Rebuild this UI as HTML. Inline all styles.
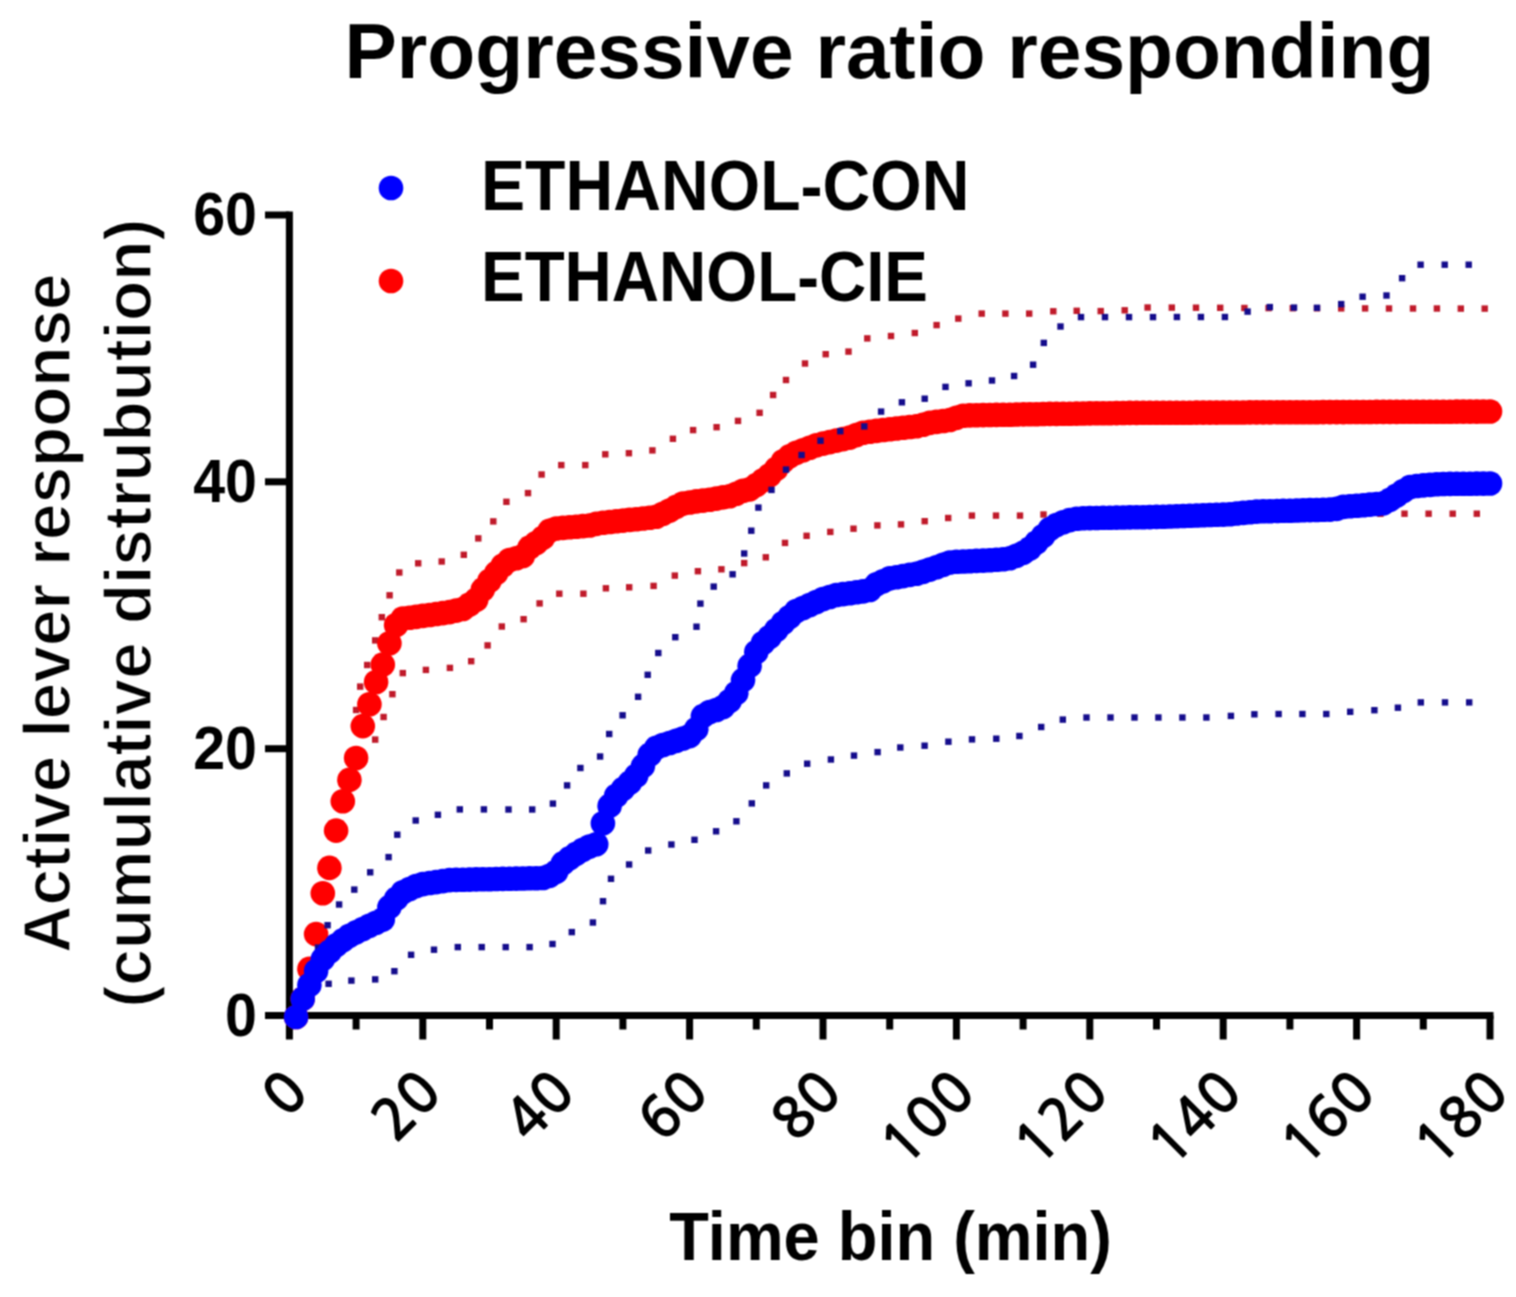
<!DOCTYPE html>
<html><head><meta charset="utf-8"><title>Progressive ratio responding</title>
<style>html,body{margin:0;padding:0;background:#fff;} svg{display:block;}</style>
</head><body>
<svg width="1516" height="1297" viewBox="0 0 1516 1297">
<defs><filter id="soft" filterUnits="userSpaceOnUse" x="0" y="0" width="1516" height="1297" color-interpolation-filters="sRGB"><feConvolveMatrix order="3" kernelMatrix="1 2 1 2 4 2 1 2 1" divisor="16" edgeMode="duplicate"/></filter></defs>
<rect width="1516" height="1297" fill="#fff"/>
<g filter="url(#soft)">
<rect width="1516" height="1297" fill="#fff"/>
<g stroke="#000" stroke-width="7" stroke-linecap="butt"><line x1="289.4" y1="211.5" x2="289.4" y2="1039.5" /><line x1="265" y1="1015.5" x2="1493.5" y2="1015.5" /><line x1="265" y1="748.7" x2="289.4" y2="748.7" /><line x1="265" y1="481.8" x2="289.4" y2="481.8" /><line x1="265" y1="215.0" x2="289.4" y2="215.0" /><line x1="422.8" y1="1015.5" x2="422.8" y2="1039.5" /><line x1="556.2" y1="1015.5" x2="556.2" y2="1039.5" /><line x1="689.6" y1="1015.5" x2="689.6" y2="1039.5" /><line x1="823.0" y1="1015.5" x2="823.0" y2="1039.5" /><line x1="956.4" y1="1015.5" x2="956.4" y2="1039.5" /><line x1="1089.8" y1="1015.5" x2="1089.8" y2="1039.5" /><line x1="1223.2" y1="1015.5" x2="1223.2" y2="1039.5" /><line x1="1356.6" y1="1015.5" x2="1356.6" y2="1039.5" /><line x1="1490.0" y1="1015.5" x2="1490.0" y2="1039.5" /><line x1="356.1" y1="1015.5" x2="356.1" y2="1029.5" /><line x1="489.5" y1="1015.5" x2="489.5" y2="1029.5" /><line x1="622.9" y1="1015.5" x2="622.9" y2="1029.5" /><line x1="756.3" y1="1015.5" x2="756.3" y2="1029.5" /><line x1="889.7" y1="1015.5" x2="889.7" y2="1029.5" /><line x1="1023.1" y1="1015.5" x2="1023.1" y2="1029.5" /><line x1="1156.5" y1="1015.5" x2="1156.5" y2="1029.5" /><line x1="1289.9" y1="1015.5" x2="1289.9" y2="1029.5" /><line x1="1423.3" y1="1015.5" x2="1423.3" y2="1029.5" /></g>
<g fill="#c01a2a"><rect x="352.9" y="706.8" width="6.4" height="6.4"/><rect x="357.0" y="683.4" width="6.4" height="6.4"/><rect x="364.0" y="661.8" width="6.4" height="6.4"/><rect x="372.0" y="637.2" width="6.4" height="6.4"/><rect x="378.6" y="614.0" width="6.4" height="6.4"/><rect x="386.4" y="592.1" width="6.4" height="6.4"/><rect x="396.1" y="569.3" width="6.4" height="6.4"/><rect x="415.0" y="560.1" width="6.4" height="6.4"/><rect x="438.5" y="558.3" width="6.4" height="6.4"/><rect x="460.6" y="551.6" width="6.4" height="6.4"/><rect x="475.1" y="535.2" width="6.4" height="6.4"/><rect x="490.1" y="518.2" width="6.4" height="6.4"/><rect x="503.2" y="498.6" width="6.4" height="6.4"/><rect x="524.8" y="489.9" width="6.4" height="6.4"/><rect x="538.4" y="471.3" width="6.4" height="6.4"/><rect x="558.1" y="461.9" width="6.4" height="6.4"/><rect x="582.1" y="461.9" width="6.4" height="6.4"/><rect x="602.1" y="451.1" width="6.4" height="6.4"/><rect x="625.7" y="450.0" width="6.4" height="6.4"/><rect x="649.2" y="447.2" width="6.4" height="6.4"/><rect x="669.7" y="435.6" width="6.4" height="6.4"/><rect x="689.9" y="426.9" width="6.4" height="6.4"/><rect x="713.4" y="424.0" width="6.4" height="6.4"/><rect x="734.8" y="417.7" width="6.4" height="6.4"/><rect x="756.4" y="409.6" width="6.4" height="6.4"/><rect x="769.9" y="391.8" width="6.4" height="6.4"/><rect x="782.8" y="376.8" width="6.4" height="6.4"/><rect x="801.8" y="360.3" width="6.4" height="6.4"/><rect x="822.5" y="351.0" width="6.4" height="6.4"/><rect x="845.3" y="348.4" width="6.4" height="6.4"/><rect x="864.1" y="335.2" width="6.4" height="6.4"/><rect x="887.8" y="332.8" width="6.4" height="6.4"/><rect x="911.6" y="329.8" width="6.4" height="6.4"/><rect x="933.4" y="321.9" width="6.4" height="6.4"/><rect x="955.1" y="315.4" width="6.4" height="6.4"/><rect x="978.5" y="310.4" width="6.4" height="6.4"/><rect x="1002.2" y="310.4" width="6.4" height="6.4"/><rect x="1026.0" y="310.4" width="6.4" height="6.4"/><rect x="1050.1" y="308.1" width="6.4" height="6.4"/><rect x="1073.5" y="307.6" width="6.4" height="6.4"/><rect x="1097.5" y="307.9" width="6.4" height="6.4"/><rect x="1121.5" y="307.1" width="6.4" height="6.4"/><rect x="1144.4" y="304.3" width="6.4" height="6.4"/><rect x="1168.6" y="304.4" width="6.4" height="6.4"/><rect x="1192.8" y="304.5" width="6.4" height="6.4"/><rect x="1217.0" y="304.6" width="6.4" height="6.4"/><rect x="1241.2" y="304.8" width="6.4" height="6.4"/><rect x="1265.4" y="304.9" width="6.4" height="6.4"/><rect x="1289.6" y="305.0" width="6.4" height="6.4"/><rect x="1313.8" y="305.1" width="6.4" height="6.4"/><rect x="1338.0" y="305.2" width="6.4" height="6.4"/><rect x="1361.9" y="305.2" width="6.4" height="6.4"/><rect x="1385.8" y="305.3" width="6.4" height="6.4"/><rect x="1409.8" y="305.3" width="6.4" height="6.4"/><rect x="1433.7" y="305.3" width="6.4" height="6.4"/><rect x="1457.6" y="305.4" width="6.4" height="6.4"/><rect x="1481.5" y="305.4" width="6.4" height="6.4"/></g><g fill="#c01a2a"><rect x="372.0" y="736.4" width="6.4" height="6.4"/><rect x="380.4" y="713.8" width="6.4" height="6.4"/><rect x="389.2" y="691.0" width="6.4" height="6.4"/><rect x="399.6" y="669.9" width="6.4" height="6.4"/><rect x="422.7" y="666.7" width="6.4" height="6.4"/><rect x="446.7" y="664.7" width="6.4" height="6.4"/><rect x="468.0" y="658.0" width="6.4" height="6.4"/><rect x="484.4" y="642.2" width="6.4" height="6.4"/><rect x="498.6" y="623.3" width="6.4" height="6.4"/><rect x="520.4" y="616.0" width="6.4" height="6.4"/><rect x="536.4" y="600.2" width="6.4" height="6.4"/><rect x="556.1" y="590.5" width="6.4" height="6.4"/><rect x="580.2" y="590.5" width="6.4" height="6.4"/><rect x="602.7" y="585.1" width="6.4" height="6.4"/><rect x="626.0" y="584.1" width="6.4" height="6.4"/><rect x="650.4" y="582.7" width="6.4" height="6.4"/><rect x="671.6" y="572.4" width="6.4" height="6.4"/><rect x="694.7" y="568.0" width="6.4" height="6.4"/><rect x="718.2" y="566.1" width="6.4" height="6.4"/><rect x="741.0" y="559.9" width="6.4" height="6.4"/><rect x="762.6" y="554.1" width="6.4" height="6.4"/><rect x="781.8" y="539.7" width="6.4" height="6.4"/><rect x="803.4" y="532.6" width="6.4" height="6.4"/><rect x="827.1" y="528.7" width="6.4" height="6.4"/><rect x="850.3" y="525.5" width="6.4" height="6.4"/><rect x="874.2" y="522.2" width="6.4" height="6.4"/><rect x="897.8" y="521.2" width="6.4" height="6.4"/><rect x="921.5" y="518.0" width="6.4" height="6.4"/><rect x="945.0" y="514.8" width="6.4" height="6.4"/><rect x="968.7" y="512.4" width="6.4" height="6.4"/><rect x="992.8" y="512.4" width="6.4" height="6.4"/><rect x="1016.8" y="512.4" width="6.4" height="6.4"/><rect x="1040.3" y="511.3" width="6.4" height="6.4"/><rect x="1064.4" y="511.2" width="6.4" height="6.4"/><rect x="1088.4" y="511.2" width="6.4" height="6.4"/><rect x="1112.5" y="511.1" width="6.4" height="6.4"/><rect x="1136.6" y="511.1" width="6.4" height="6.4"/><rect x="1160.6" y="511.0" width="6.4" height="6.4"/><rect x="1184.7" y="511.0" width="6.4" height="6.4"/><rect x="1208.8" y="510.9" width="6.4" height="6.4"/><rect x="1232.8" y="510.9" width="6.4" height="6.4"/><rect x="1256.9" y="510.8" width="6.4" height="6.4"/><rect x="1281.0" y="510.8" width="6.4" height="6.4"/><rect x="1305.0" y="510.7" width="6.4" height="6.4"/><rect x="1329.1" y="510.7" width="6.4" height="6.4"/><rect x="1353.2" y="510.6" width="6.4" height="6.4"/><rect x="1377.2" y="510.6" width="6.4" height="6.4"/><rect x="1401.3" y="510.5" width="6.4" height="6.4"/><rect x="1425.4" y="510.5" width="6.4" height="6.4"/><rect x="1449.5" y="510.5" width="6.4" height="6.4"/><rect x="1473.6" y="510.5" width="6.4" height="6.4"/></g><g fill="#ff0000"><circle cx="296.1" cy="1017.0" r="12.3"/><circle cx="302.7" cy="998.8" r="12.3"/><circle cx="309.4" cy="968.9" r="12.3"/><circle cx="316.1" cy="934.1" r="12.3"/><circle cx="322.8" cy="893.3" r="12.3"/><circle cx="329.4" cy="867.9" r="12.3"/><circle cx="336.1" cy="830.6" r="12.3"/><circle cx="342.8" cy="801.2" r="12.3"/><circle cx="349.4" cy="779.9" r="12.3"/><circle cx="356.1" cy="758.0" r="12.3"/><circle cx="362.8" cy="726.1" r="12.3"/><circle cx="369.4" cy="704.2" r="12.3"/><circle cx="376.1" cy="682.0" r="12.3"/><circle cx="382.8" cy="664.6" r="12.3"/><circle cx="389.4" cy="643.2" r="12.3"/><circle cx="396.1" cy="625.0" r="12.3"/><circle cx="402.8" cy="618.5" r="12.3"/><circle cx="409.5" cy="617.8" r="12.3"/><circle cx="416.1" cy="616.9" r="12.3"/><circle cx="422.8" cy="615.9" r="12.3"/><circle cx="429.5" cy="615.0" r="12.3"/><circle cx="436.1" cy="614.0" r="12.3"/><circle cx="442.8" cy="613.1" r="12.3"/><circle cx="449.5" cy="612.1" r="12.3"/><circle cx="456.1" cy="610.6" r="12.3"/><circle cx="462.8" cy="609.0" r="12.3"/><circle cx="469.5" cy="604.5" r="12.3"/><circle cx="476.2" cy="599.8" r="12.3"/><circle cx="482.8" cy="589.6" r="12.3"/><circle cx="489.5" cy="580.8" r="12.3"/><circle cx="496.2" cy="573.1" r="12.3"/><circle cx="502.8" cy="565.5" r="12.3"/><circle cx="509.5" cy="560.0" r="12.3"/><circle cx="516.2" cy="558.2" r="12.3"/><circle cx="522.8" cy="556.0" r="12.3"/><circle cx="529.5" cy="547.6" r="12.3"/><circle cx="536.2" cy="543.0" r="12.3"/><circle cx="542.9" cy="537.8" r="12.3"/><circle cx="549.5" cy="530.9" r="12.3"/><circle cx="556.2" cy="528.5" r="12.3"/><circle cx="562.9" cy="527.9" r="12.3"/><circle cx="569.5" cy="527.3" r="12.3"/><circle cx="576.2" cy="526.7" r="12.3"/><circle cx="582.9" cy="526.1" r="12.3"/><circle cx="589.5" cy="525.5" r="12.3"/><circle cx="596.2" cy="523.9" r="12.3"/><circle cx="602.9" cy="522.7" r="12.3"/><circle cx="609.6" cy="522.0" r="12.3"/><circle cx="616.2" cy="521.3" r="12.3"/><circle cx="622.9" cy="520.6" r="12.3"/><circle cx="629.6" cy="519.9" r="12.3"/><circle cx="636.2" cy="519.2" r="12.3"/><circle cx="642.9" cy="518.5" r="12.3"/><circle cx="649.6" cy="517.8" r="12.3"/><circle cx="656.2" cy="516.8" r="12.3"/><circle cx="662.9" cy="513.7" r="12.3"/><circle cx="669.6" cy="510.5" r="12.3"/><circle cx="676.3" cy="506.9" r="12.3"/><circle cx="682.9" cy="503.6" r="12.3"/><circle cx="689.6" cy="502.5" r="12.3"/><circle cx="696.3" cy="501.4" r="12.3"/><circle cx="702.9" cy="500.6" r="12.3"/><circle cx="709.6" cy="499.7" r="12.3"/><circle cx="716.3" cy="498.6" r="12.3"/><circle cx="723.0" cy="497.4" r="12.3"/><circle cx="729.6" cy="496.3" r="12.3"/><circle cx="736.3" cy="493.7" r="12.3"/><circle cx="743.0" cy="490.8" r="12.3"/><circle cx="749.6" cy="489.4" r="12.3"/><circle cx="756.3" cy="485.1" r="12.3"/><circle cx="763.0" cy="480.3" r="12.3"/><circle cx="769.6" cy="475.3" r="12.3"/><circle cx="776.3" cy="468.8" r="12.3"/><circle cx="783.0" cy="461.3" r="12.3"/><circle cx="789.6" cy="456.4" r="12.3"/><circle cx="796.3" cy="452.8" r="12.3"/><circle cx="803.0" cy="450.3" r="12.3"/><circle cx="809.7" cy="447.8" r="12.3"/><circle cx="816.3" cy="445.3" r="12.3"/><circle cx="823.0" cy="443.6" r="12.3"/><circle cx="829.7" cy="442.1" r="12.3"/><circle cx="836.3" cy="440.6" r="12.3"/><circle cx="843.0" cy="439.1" r="12.3"/><circle cx="849.7" cy="437.6" r="12.3"/><circle cx="856.4" cy="435.1" r="12.3"/><circle cx="863.0" cy="432.7" r="12.3"/><circle cx="869.7" cy="431.8" r="12.3"/><circle cx="876.4" cy="430.9" r="12.3"/><circle cx="883.0" cy="430.0" r="12.3"/><circle cx="889.7" cy="429.2" r="12.3"/><circle cx="896.4" cy="428.5" r="12.3"/><circle cx="903.0" cy="427.7" r="12.3"/><circle cx="909.7" cy="427.0" r="12.3"/><circle cx="916.4" cy="426.3" r="12.3"/><circle cx="923.0" cy="424.7" r="12.3"/><circle cx="929.7" cy="422.9" r="12.3"/><circle cx="936.4" cy="421.9" r="12.3"/><circle cx="943.1" cy="421.0" r="12.3"/><circle cx="949.7" cy="420.0" r="12.3"/><circle cx="956.4" cy="417.9" r="12.3"/><circle cx="963.1" cy="415.8" r="12.3"/><circle cx="969.7" cy="415.4" r="12.3"/><circle cx="976.4" cy="415.3" r="12.3"/><circle cx="983.1" cy="415.1" r="12.3"/><circle cx="989.8" cy="415.0" r="12.3"/><circle cx="996.4" cy="414.9" r="12.3"/><circle cx="1003.1" cy="414.8" r="12.3"/><circle cx="1009.8" cy="414.7" r="12.3"/><circle cx="1016.4" cy="414.5" r="12.3"/><circle cx="1023.1" cy="414.4" r="12.3"/><circle cx="1029.8" cy="414.3" r="12.3"/><circle cx="1036.4" cy="414.2" r="12.3"/><circle cx="1043.1" cy="414.0" r="12.3"/><circle cx="1049.8" cy="413.9" r="12.3"/><circle cx="1056.4" cy="413.9" r="12.3"/><circle cx="1063.1" cy="413.8" r="12.3"/><circle cx="1069.8" cy="413.7" r="12.3"/><circle cx="1076.5" cy="413.6" r="12.3"/><circle cx="1083.1" cy="413.5" r="12.3"/><circle cx="1089.8" cy="413.4" r="12.3"/><circle cx="1096.5" cy="413.3" r="12.3"/><circle cx="1103.1" cy="413.2" r="12.3"/><circle cx="1109.8" cy="413.2" r="12.3"/><circle cx="1116.5" cy="413.1" r="12.3"/><circle cx="1123.2" cy="413.0" r="12.3"/><circle cx="1129.8" cy="412.9" r="12.3"/><circle cx="1136.5" cy="412.9" r="12.3"/><circle cx="1143.2" cy="412.8" r="12.3"/><circle cx="1149.8" cy="412.8" r="12.3"/><circle cx="1156.5" cy="412.8" r="12.3"/><circle cx="1163.2" cy="412.8" r="12.3"/><circle cx="1169.8" cy="412.7" r="12.3"/><circle cx="1176.5" cy="412.7" r="12.3"/><circle cx="1183.2" cy="412.7" r="12.3"/><circle cx="1189.8" cy="412.7" r="12.3"/><circle cx="1196.5" cy="412.6" r="12.3"/><circle cx="1203.2" cy="412.6" r="12.3"/><circle cx="1209.9" cy="412.6" r="12.3"/><circle cx="1216.5" cy="412.6" r="12.3"/><circle cx="1223.2" cy="412.5" r="12.3"/><circle cx="1229.9" cy="412.5" r="12.3"/><circle cx="1236.5" cy="412.5" r="12.3"/><circle cx="1243.2" cy="412.5" r="12.3"/><circle cx="1249.9" cy="412.4" r="12.3"/><circle cx="1256.5" cy="412.4" r="12.3"/><circle cx="1263.2" cy="412.4" r="12.3"/><circle cx="1269.9" cy="412.4" r="12.3"/><circle cx="1276.6" cy="412.3" r="12.3"/><circle cx="1283.2" cy="412.3" r="12.3"/><circle cx="1289.9" cy="412.3" r="12.3"/><circle cx="1296.6" cy="412.3" r="12.3"/><circle cx="1303.2" cy="412.2" r="12.3"/><circle cx="1309.9" cy="412.2" r="12.3"/><circle cx="1316.6" cy="412.2" r="12.3"/><circle cx="1323.2" cy="412.1" r="12.3"/><circle cx="1329.9" cy="412.1" r="12.3"/><circle cx="1336.6" cy="412.1" r="12.3"/><circle cx="1343.3" cy="412.1" r="12.3"/><circle cx="1349.9" cy="412.0" r="12.3"/><circle cx="1356.6" cy="412.0" r="12.3"/><circle cx="1363.3" cy="412.0" r="12.3"/><circle cx="1369.9" cy="412.0" r="12.3"/><circle cx="1376.6" cy="411.9" r="12.3"/><circle cx="1383.3" cy="411.9" r="12.3"/><circle cx="1389.9" cy="411.9" r="12.3"/><circle cx="1396.6" cy="411.9" r="12.3"/><circle cx="1403.3" cy="411.8" r="12.3"/><circle cx="1410.0" cy="411.8" r="12.3"/><circle cx="1416.6" cy="411.8" r="12.3"/><circle cx="1423.3" cy="411.8" r="12.3"/><circle cx="1430.0" cy="411.7" r="12.3"/><circle cx="1436.6" cy="411.7" r="12.3"/><circle cx="1443.3" cy="411.7" r="12.3"/><circle cx="1450.0" cy="411.7" r="12.3"/><circle cx="1456.7" cy="411.6" r="12.3"/><circle cx="1463.3" cy="411.6" r="12.3"/><circle cx="1470.0" cy="411.6" r="12.3"/><circle cx="1476.7" cy="411.6" r="12.3"/><circle cx="1483.3" cy="411.5" r="12.3"/><circle cx="1490.0" cy="411.5" r="12.3"/></g><g fill="#140c8c"><rect x="292.9" y="1008.8" width="6.4" height="6.4"/><rect x="300.3" y="986.8" width="6.4" height="6.4"/><rect x="307.8" y="964.8" width="6.4" height="6.4"/><rect x="314.8" y="944.4" width="6.4" height="6.4"/><rect x="324.4" y="922.0" width="6.4" height="6.4"/><rect x="335.9" y="901.3" width="6.4" height="6.4"/><rect x="351.1" y="886.4" width="6.4" height="6.4"/><rect x="367.0" y="869.1" width="6.4" height="6.4"/><rect x="385.4" y="853.9" width="6.4" height="6.4"/><rect x="394.1" y="831.5" width="6.4" height="6.4"/><rect x="412.5" y="817.3" width="6.4" height="6.4"/><rect x="434.7" y="811.6" width="6.4" height="6.4"/><rect x="456.6" y="806.2" width="6.4" height="6.4"/><rect x="480.7" y="806.2" width="6.4" height="6.4"/><rect x="505.3" y="806.3" width="6.4" height="6.4"/><rect x="529.0" y="806.3" width="6.4" height="6.4"/><rect x="549.7" y="800.4" width="6.4" height="6.4"/><rect x="563.9" y="782.2" width="6.4" height="6.4"/><rect x="577.2" y="764.8" width="6.4" height="6.4"/><rect x="596.9" y="753.3" width="6.4" height="6.4"/><rect x="606.0" y="730.8" width="6.4" height="6.4"/><rect x="619.4" y="712.1" width="6.4" height="6.4"/><rect x="634.9" y="693.6" width="6.4" height="6.4"/><rect x="644.5" y="671.6" width="6.4" height="6.4"/><rect x="655.1" y="649.8" width="6.4" height="6.4"/><rect x="672.1" y="634.0" width="6.4" height="6.4"/><rect x="693.3" y="623.5" width="6.4" height="6.4"/><rect x="697.2" y="600.4" width="6.4" height="6.4"/><rect x="710.5" y="583.4" width="6.4" height="6.4"/><rect x="729.4" y="571.1" width="6.4" height="6.4"/><rect x="741.0" y="550.3" width="6.4" height="6.4"/><rect x="748.1" y="527.5" width="6.4" height="6.4"/><rect x="755.2" y="504.4" width="6.4" height="6.4"/><rect x="768.3" y="486.7" width="6.4" height="6.4"/><rect x="782.8" y="466.4" width="6.4" height="6.4"/><rect x="798.4" y="451.8" width="6.4" height="6.4"/><rect x="817.3" y="437.5" width="6.4" height="6.4"/><rect x="837.1" y="428.0" width="6.4" height="6.4"/><rect x="861.1" y="423.2" width="6.4" height="6.4"/><rect x="877.9" y="408.4" width="6.4" height="6.4"/><rect x="898.7" y="399.1" width="6.4" height="6.4"/><rect x="921.5" y="395.5" width="6.4" height="6.4"/><rect x="942.3" y="383.7" width="6.4" height="6.4"/><rect x="965.4" y="380.1" width="6.4" height="6.4"/><rect x="988.8" y="377.3" width="6.4" height="6.4"/><rect x="1010.9" y="372.8" width="6.4" height="6.4"/><rect x="1029.9" y="361.5" width="6.4" height="6.4"/><rect x="1040.6" y="339.7" width="6.4" height="6.4"/><rect x="1057.3" y="323.3" width="6.4" height="6.4"/><rect x="1077.8" y="313.9" width="6.4" height="6.4"/><rect x="1101.8" y="313.9" width="6.4" height="6.4"/><rect x="1125.8" y="313.9" width="6.4" height="6.4"/><rect x="1149.8" y="313.9" width="6.4" height="6.4"/><rect x="1173.7" y="313.8" width="6.4" height="6.4"/><rect x="1197.7" y="313.8" width="6.4" height="6.4"/><rect x="1221.7" y="313.8" width="6.4" height="6.4"/><rect x="1244.4" y="308.4" width="6.4" height="6.4"/><rect x="1266.6" y="303.9" width="6.4" height="6.4"/><rect x="1290.8" y="304.4" width="6.4" height="6.4"/><rect x="1313.8" y="304.6" width="6.4" height="6.4"/><rect x="1338.0" y="300.9" width="6.4" height="6.4"/><rect x="1359.4" y="293.5" width="6.4" height="6.4"/><rect x="1383.3" y="292.3" width="6.4" height="6.4"/><rect x="1398.9" y="275.0" width="6.4" height="6.4"/><rect x="1417.4" y="261.5" width="6.4" height="6.4"/><rect x="1441.5" y="261.5" width="6.4" height="6.4"/><rect x="1465.5" y="261.5" width="6.4" height="6.4"/></g><g fill="#140c8c"><rect x="292.9" y="1008.8" width="6.4" height="6.4"/><rect x="301.8" y="991.8" width="6.4" height="6.4"/><rect x="325.4" y="980.6" width="6.4" height="6.4"/><rect x="348.2" y="977.4" width="6.4" height="6.4"/><rect x="372.0" y="976.2" width="6.4" height="6.4"/><rect x="391.2" y="968.0" width="6.4" height="6.4"/><rect x="407.9" y="951.6" width="6.4" height="6.4"/><rect x="430.8" y="946.5" width="6.4" height="6.4"/><rect x="454.6" y="943.9" width="6.4" height="6.4"/><rect x="478.5" y="943.9" width="6.4" height="6.4"/><rect x="502.5" y="943.9" width="6.4" height="6.4"/><rect x="526.4" y="943.9" width="6.4" height="6.4"/><rect x="549.3" y="940.8" width="6.4" height="6.4"/><rect x="568.6" y="928.9" width="6.4" height="6.4"/><rect x="589.7" y="919.3" width="6.4" height="6.4"/><rect x="599.8" y="898.0" width="6.4" height="6.4"/><rect x="607.8" y="875.6" width="6.4" height="6.4"/><rect x="625.9" y="861.3" width="6.4" height="6.4"/><rect x="645.0" y="847.3" width="6.4" height="6.4"/><rect x="668.2" y="841.3" width="6.4" height="6.4"/><rect x="691.3" y="836.6" width="6.4" height="6.4"/><rect x="712.9" y="828.1" width="6.4" height="6.4"/><rect x="733.2" y="818.1" width="6.4" height="6.4"/><rect x="748.6" y="800.2" width="6.4" height="6.4"/><rect x="763.0" y="782.2" width="6.4" height="6.4"/><rect x="783.6" y="770.2" width="6.4" height="6.4"/><rect x="804.0" y="760.5" width="6.4" height="6.4"/><rect x="827.7" y="756.3" width="6.4" height="6.4"/><rect x="850.8" y="752.4" width="6.4" height="6.4"/><rect x="874.4" y="748.9" width="6.4" height="6.4"/><rect x="897.1" y="744.3" width="6.4" height="6.4"/><rect x="921.4" y="742.5" width="6.4" height="6.4"/><rect x="945.2" y="738.5" width="6.4" height="6.4"/><rect x="968.8" y="736.2" width="6.4" height="6.4"/><rect x="993.1" y="735.5" width="6.4" height="6.4"/><rect x="1016.2" y="732.8" width="6.4" height="6.4"/><rect x="1038.0" y="723.8" width="6.4" height="6.4"/><rect x="1059.6" y="716.4" width="6.4" height="6.4"/><rect x="1083.3" y="714.3" width="6.4" height="6.4"/><rect x="1107.3" y="714.3" width="6.4" height="6.4"/><rect x="1131.3" y="714.3" width="6.4" height="6.4"/><rect x="1155.2" y="714.3" width="6.4" height="6.4"/><rect x="1179.2" y="714.3" width="6.4" height="6.4"/><rect x="1203.2" y="714.3" width="6.4" height="6.4"/><rect x="1227.7" y="712.7" width="6.4" height="6.4"/><rect x="1251.2" y="711.1" width="6.4" height="6.4"/><rect x="1275.4" y="710.8" width="6.4" height="6.4"/><rect x="1299.2" y="710.8" width="6.4" height="6.4"/><rect x="1323.1" y="710.8" width="6.4" height="6.4"/><rect x="1347.0" y="708.6" width="6.4" height="6.4"/><rect x="1371.2" y="707.0" width="6.4" height="6.4"/><rect x="1394.7" y="704.5" width="6.4" height="6.4"/><rect x="1417.6" y="699.2" width="6.4" height="6.4"/><rect x="1441.8" y="699.2" width="6.4" height="6.4"/><rect x="1466.0" y="699.2" width="6.4" height="6.4"/></g><g fill="#0000ff"><circle cx="296.1" cy="1017.0" r="12.3"/><circle cx="302.7" cy="998.9" r="12.3"/><circle cx="309.4" cy="985.0" r="12.3"/><circle cx="316.1" cy="971.0" r="12.3"/><circle cx="322.8" cy="959.1" r="12.3"/><circle cx="329.4" cy="951.9" r="12.3"/><circle cx="336.1" cy="945.4" r="12.3"/><circle cx="342.8" cy="940.4" r="12.3"/><circle cx="349.4" cy="935.8" r="12.3"/><circle cx="356.1" cy="932.4" r="12.3"/><circle cx="362.8" cy="929.0" r="12.3"/><circle cx="369.4" cy="925.7" r="12.3"/><circle cx="376.1" cy="922.7" r="12.3"/><circle cx="382.8" cy="919.6" r="12.3"/><circle cx="389.4" cy="907.1" r="12.3"/><circle cx="396.1" cy="898.9" r="12.3"/><circle cx="402.8" cy="892.2" r="12.3"/><circle cx="409.5" cy="889.0" r="12.3"/><circle cx="416.1" cy="886.0" r="12.3"/><circle cx="422.8" cy="884.1" r="12.3"/><circle cx="429.5" cy="883.0" r="12.3"/><circle cx="436.1" cy="882.1" r="12.3"/><circle cx="442.8" cy="881.1" r="12.3"/><circle cx="449.5" cy="880.1" r="12.3"/><circle cx="456.1" cy="879.9" r="12.3"/><circle cx="462.8" cy="879.7" r="12.3"/><circle cx="469.5" cy="879.6" r="12.3"/><circle cx="476.2" cy="879.4" r="12.3"/><circle cx="482.8" cy="879.3" r="12.3"/><circle cx="489.5" cy="879.2" r="12.3"/><circle cx="496.2" cy="879.0" r="12.3"/><circle cx="502.8" cy="878.9" r="12.3"/><circle cx="509.5" cy="878.7" r="12.3"/><circle cx="516.2" cy="878.6" r="12.3"/><circle cx="522.8" cy="878.5" r="12.3"/><circle cx="529.5" cy="878.3" r="12.3"/><circle cx="536.2" cy="878.2" r="12.3"/><circle cx="542.9" cy="878.0" r="12.3"/><circle cx="549.5" cy="875.9" r="12.3"/><circle cx="556.2" cy="871.7" r="12.3"/><circle cx="562.9" cy="863.4" r="12.3"/><circle cx="569.5" cy="858.4" r="12.3"/><circle cx="576.2" cy="853.9" r="12.3"/><circle cx="582.9" cy="849.8" r="12.3"/><circle cx="589.5" cy="846.5" r="12.3"/><circle cx="596.2" cy="844.3" r="12.3"/><circle cx="602.9" cy="823.3" r="12.3"/><circle cx="609.6" cy="805.9" r="12.3"/><circle cx="616.2" cy="795.8" r="12.3"/><circle cx="622.9" cy="789.1" r="12.3"/><circle cx="629.6" cy="782.9" r="12.3"/><circle cx="636.2" cy="775.7" r="12.3"/><circle cx="642.9" cy="766.1" r="12.3"/><circle cx="649.6" cy="754.9" r="12.3"/><circle cx="656.2" cy="747.9" r="12.3"/><circle cx="662.9" cy="745.0" r="12.3"/><circle cx="669.6" cy="743.0" r="12.3"/><circle cx="676.3" cy="740.9" r="12.3"/><circle cx="682.9" cy="738.5" r="12.3"/><circle cx="689.6" cy="736.1" r="12.3"/><circle cx="696.3" cy="729.0" r="12.3"/><circle cx="702.9" cy="716.1" r="12.3"/><circle cx="709.6" cy="712.0" r="12.3"/><circle cx="716.3" cy="710.0" r="12.3"/><circle cx="723.0" cy="707.0" r="12.3"/><circle cx="729.6" cy="701.0" r="12.3"/><circle cx="736.3" cy="693.0" r="12.3"/><circle cx="743.0" cy="680.1" r="12.3"/><circle cx="749.6" cy="665.9" r="12.3"/><circle cx="756.3" cy="652.0" r="12.3"/><circle cx="763.0" cy="643.0" r="12.3"/><circle cx="769.6" cy="637.0" r="12.3"/><circle cx="776.3" cy="630.0" r="12.3"/><circle cx="783.0" cy="623.0" r="12.3"/><circle cx="789.6" cy="617.0" r="12.3"/><circle cx="796.3" cy="611.0" r="12.3"/><circle cx="803.0" cy="608.0" r="12.3"/><circle cx="809.7" cy="605.0" r="12.3"/><circle cx="816.3" cy="602.0" r="12.3"/><circle cx="823.0" cy="599.0" r="12.3"/><circle cx="829.7" cy="597.0" r="12.3"/><circle cx="836.3" cy="595.0" r="12.3"/><circle cx="843.0" cy="594.1" r="12.3"/><circle cx="849.7" cy="593.2" r="12.3"/><circle cx="856.4" cy="592.3" r="12.3"/><circle cx="863.0" cy="591.4" r="12.3"/><circle cx="869.7" cy="590.0" r="12.3"/><circle cx="876.4" cy="584.4" r="12.3"/><circle cx="883.0" cy="581.3" r="12.3"/><circle cx="889.7" cy="578.4" r="12.3"/><circle cx="896.4" cy="577.2" r="12.3"/><circle cx="903.0" cy="576.1" r="12.3"/><circle cx="909.7" cy="574.9" r="12.3"/><circle cx="916.4" cy="573.8" r="12.3"/><circle cx="923.0" cy="571.9" r="12.3"/><circle cx="929.7" cy="569.6" r="12.3"/><circle cx="936.4" cy="567.3" r="12.3"/><circle cx="943.1" cy="564.9" r="12.3"/><circle cx="949.7" cy="562.5" r="12.3"/><circle cx="956.4" cy="561.8" r="12.3"/><circle cx="963.1" cy="561.5" r="12.3"/><circle cx="969.7" cy="561.2" r="12.3"/><circle cx="976.4" cy="560.9" r="12.3"/><circle cx="983.1" cy="560.6" r="12.3"/><circle cx="989.8" cy="560.3" r="12.3"/><circle cx="996.4" cy="559.8" r="12.3"/><circle cx="1003.1" cy="559.2" r="12.3"/><circle cx="1009.8" cy="558.3" r="12.3"/><circle cx="1016.4" cy="555.7" r="12.3"/><circle cx="1023.1" cy="552.8" r="12.3"/><circle cx="1029.8" cy="548.5" r="12.3"/><circle cx="1036.4" cy="542.5" r="12.3"/><circle cx="1043.1" cy="536.0" r="12.3"/><circle cx="1049.8" cy="529.1" r="12.3"/><circle cx="1056.4" cy="525.1" r="12.3"/><circle cx="1063.1" cy="522.3" r="12.3"/><circle cx="1069.8" cy="520.1" r="12.3"/><circle cx="1076.5" cy="518.8" r="12.3"/><circle cx="1083.1" cy="518.2" r="12.3"/><circle cx="1089.8" cy="518.1" r="12.3"/><circle cx="1096.5" cy="518.0" r="12.3"/><circle cx="1103.1" cy="517.8" r="12.3"/><circle cx="1109.8" cy="517.7" r="12.3"/><circle cx="1116.5" cy="517.6" r="12.3"/><circle cx="1123.2" cy="517.5" r="12.3"/><circle cx="1129.8" cy="517.4" r="12.3"/><circle cx="1136.5" cy="517.3" r="12.3"/><circle cx="1143.2" cy="517.2" r="12.3"/><circle cx="1149.8" cy="517.1" r="12.3"/><circle cx="1156.5" cy="516.9" r="12.3"/><circle cx="1163.2" cy="516.7" r="12.3"/><circle cx="1169.8" cy="516.5" r="12.3"/><circle cx="1176.5" cy="516.3" r="12.3"/><circle cx="1183.2" cy="516.0" r="12.3"/><circle cx="1189.8" cy="515.8" r="12.3"/><circle cx="1196.5" cy="515.5" r="12.3"/><circle cx="1203.2" cy="515.3" r="12.3"/><circle cx="1209.9" cy="515.0" r="12.3"/><circle cx="1216.5" cy="514.8" r="12.3"/><circle cx="1223.2" cy="514.6" r="12.3"/><circle cx="1229.9" cy="514.2" r="12.3"/><circle cx="1236.5" cy="513.5" r="12.3"/><circle cx="1243.2" cy="512.9" r="12.3"/><circle cx="1249.9" cy="512.2" r="12.3"/><circle cx="1256.5" cy="511.6" r="12.3"/><circle cx="1263.2" cy="511.3" r="12.3"/><circle cx="1269.9" cy="511.2" r="12.3"/><circle cx="1276.6" cy="511.0" r="12.3"/><circle cx="1283.2" cy="510.8" r="12.3"/><circle cx="1289.9" cy="510.7" r="12.3"/><circle cx="1296.6" cy="510.5" r="12.3"/><circle cx="1303.2" cy="510.3" r="12.3"/><circle cx="1309.9" cy="510.1" r="12.3"/><circle cx="1316.6" cy="510.0" r="12.3"/><circle cx="1323.2" cy="509.8" r="12.3"/><circle cx="1329.9" cy="509.6" r="12.3"/><circle cx="1336.6" cy="508.9" r="12.3"/><circle cx="1343.3" cy="506.9" r="12.3"/><circle cx="1349.9" cy="506.3" r="12.3"/><circle cx="1356.6" cy="505.8" r="12.3"/><circle cx="1363.3" cy="505.2" r="12.3"/><circle cx="1369.9" cy="504.6" r="12.3"/><circle cx="1376.6" cy="504.0" r="12.3"/><circle cx="1383.3" cy="503.4" r="12.3"/><circle cx="1389.9" cy="499.9" r="12.3"/><circle cx="1396.6" cy="495.5" r="12.3"/><circle cx="1403.3" cy="491.0" r="12.3"/><circle cx="1410.0" cy="487.1" r="12.3"/><circle cx="1416.6" cy="486.0" r="12.3"/><circle cx="1423.3" cy="485.4" r="12.3"/><circle cx="1430.0" cy="484.9" r="12.3"/><circle cx="1436.6" cy="484.3" r="12.3"/><circle cx="1443.3" cy="484.0" r="12.3"/><circle cx="1450.0" cy="483.9" r="12.3"/><circle cx="1456.7" cy="483.8" r="12.3"/><circle cx="1463.3" cy="483.8" r="12.3"/><circle cx="1470.0" cy="483.7" r="12.3"/><circle cx="1476.7" cy="483.6" r="12.3"/><circle cx="1483.3" cy="483.6" r="12.3"/><circle cx="1490.0" cy="483.5" r="12.3"/></g>
<circle cx="391" cy="188" r="12.3" fill="#0000ff"/><circle cx="391" cy="281" r="12.3" fill="#ff0000"/>
<text transform="translate(889.40,77.50) scale(1.0060,1)" text-anchor="middle" font-size="78" font-family="'Liberation Sans', Arial, Helvetica, sans-serif" font-weight="bold">Progressive ratio responding</text><text transform="translate(481.00,210.00) scale(0.9500,1)" font-size="69.6" font-family="'Liberation Sans', Arial, Helvetica, sans-serif" font-weight="bold">ETHANOL-CON</text><text transform="translate(481.00,301.00) scale(0.9400,1)" font-size="69.6" font-family="'Liberation Sans', Arial, Helvetica, sans-serif" font-weight="bold">ETHANOL-CIE</text><text transform="translate(257.00,1035.90) scale(0.9400,1)" text-anchor="end" font-size="61" font-family="'Liberation Sans', Arial, Helvetica, sans-serif" font-weight="bold">0</text><text transform="translate(257.00,769.07) scale(0.9400,1)" text-anchor="end" font-size="61" font-family="'Liberation Sans', Arial, Helvetica, sans-serif" font-weight="bold">20</text><text transform="translate(257.00,502.23) scale(0.9400,1)" text-anchor="end" font-size="61" font-family="'Liberation Sans', Arial, Helvetica, sans-serif" font-weight="bold">40</text><text transform="translate(257.00,235.40) scale(0.9400,1)" text-anchor="end" font-size="61" font-family="'Liberation Sans', Arial, Helvetica, sans-serif" font-weight="bold">60</text><text transform="translate(311.40,1095.50) rotate(-45)" text-anchor="end" font-size="57" font-family="'Liberation Sans', Arial, Helvetica, sans-serif" font-weight="bold" style="font-family:NanumGothic,'Liberation Sans',sans-serif">0</text><text transform="translate(444.80,1095.50) rotate(-45)" text-anchor="end" font-size="57" font-family="'Liberation Sans', Arial, Helvetica, sans-serif" font-weight="bold" style="font-family:NanumGothic,'Liberation Sans',sans-serif">20</text><text transform="translate(578.20,1095.50) rotate(-45)" text-anchor="end" font-size="57" font-family="'Liberation Sans', Arial, Helvetica, sans-serif" font-weight="bold" style="font-family:NanumGothic,'Liberation Sans',sans-serif">40</text><text transform="translate(711.60,1095.50) rotate(-45)" text-anchor="end" font-size="57" font-family="'Liberation Sans', Arial, Helvetica, sans-serif" font-weight="bold" style="font-family:NanumGothic,'Liberation Sans',sans-serif">60</text><text transform="translate(845.00,1095.50) rotate(-45)" text-anchor="end" font-size="57" font-family="'Liberation Sans', Arial, Helvetica, sans-serif" font-weight="bold" style="font-family:NanumGothic,'Liberation Sans',sans-serif">80</text><text transform="translate(978.40,1095.50) rotate(-45)" text-anchor="end" font-size="57" font-family="'Liberation Sans', Arial, Helvetica, sans-serif" font-weight="bold" style="font-family:NanumGothic,'Liberation Sans',sans-serif">100</text><text transform="translate(1111.80,1095.50) rotate(-45)" text-anchor="end" font-size="57" font-family="'Liberation Sans', Arial, Helvetica, sans-serif" font-weight="bold" style="font-family:NanumGothic,'Liberation Sans',sans-serif">120</text><text transform="translate(1245.20,1095.50) rotate(-45)" text-anchor="end" font-size="57" font-family="'Liberation Sans', Arial, Helvetica, sans-serif" font-weight="bold" style="font-family:NanumGothic,'Liberation Sans',sans-serif">140</text><text transform="translate(1378.60,1095.50) rotate(-45)" text-anchor="end" font-size="57" font-family="'Liberation Sans', Arial, Helvetica, sans-serif" font-weight="bold" style="font-family:NanumGothic,'Liberation Sans',sans-serif">160</text><text transform="translate(1512.00,1095.50) rotate(-45)" text-anchor="end" font-size="57" font-family="'Liberation Sans', Arial, Helvetica, sans-serif" font-weight="bold" style="font-family:NanumGothic,'Liberation Sans',sans-serif">180</text><text transform="translate(69.80,613.20) rotate(-90) scale(0.9960,1)" text-anchor="middle" font-size="66" font-family="'Liberation Sans', Arial, Helvetica, sans-serif" font-weight="bold" stroke="#fff" stroke-width="1.4">Active lever response</text><text transform="translate(150.80,613.20) rotate(-90) scale(0.9960,1)" text-anchor="middle" font-size="66" font-family="'Liberation Sans', Arial, Helvetica, sans-serif" font-weight="bold" stroke="#fff" stroke-width="1.4">(cumulative distrubution)</text><text transform="translate(890.60,1260.00) scale(0.9480,1)" text-anchor="middle" font-size="68.5" font-family="'Liberation Sans', Arial, Helvetica, sans-serif" font-weight="bold">Time bin (min)</text>
</g>
</svg>
</body></html>
